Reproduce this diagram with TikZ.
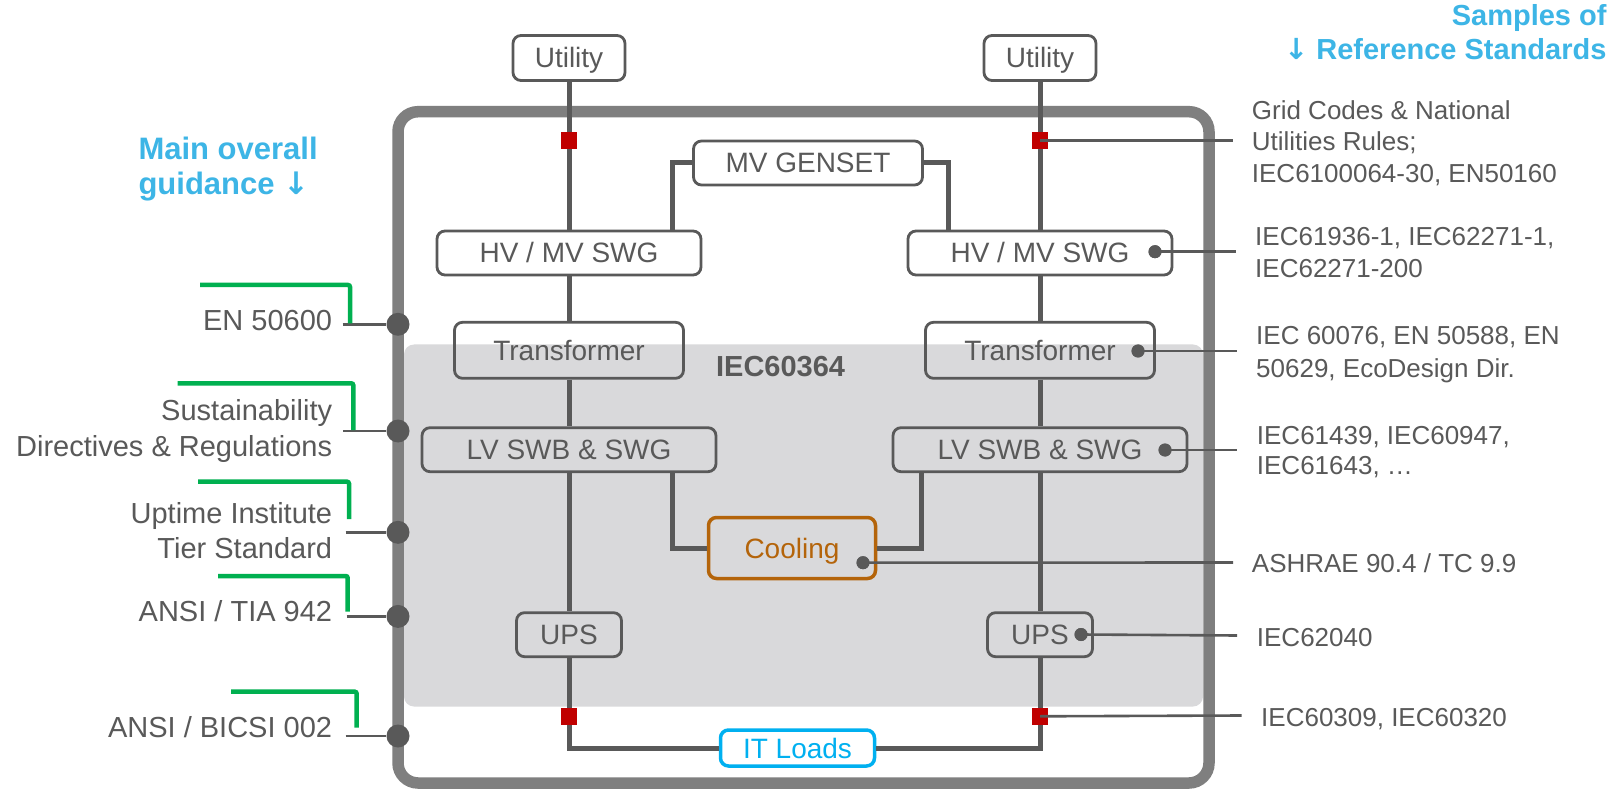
\documentclass[tikz,border=0pt]{standalone}
\usepackage{fontspec}
\setmainfont{Liberation Sans}
\newfontfamily\arrowfont{DejaVu Sans}
\definecolor{dg}{HTML}{595959}
\definecolor{fr}{HTML}{7F7F7F}
\definecolor{zonegrey}{HTML}{D9D9DB}
\definecolor{rsq}{HTML}{C00000}
\definecolor{grn}{HTML}{00B050}
\definecolor{cyanit}{HTML}{00B0F0}
\definecolor{head}{HTML}{3DB5E6}
\definecolor{cool}{HTML}{B4640A}
\newcommand\boxfnt{\fontsize{28}{34}\selectfont}
\newcommand\rlines[3]{{\fontsize{26}{#1}\selectfont\begin{tabular}[t]{@{}#2@{}}#3\end{tabular}}}
\newcommand\llines[2]{{\fontsize{29}{#1}\selectfont\begin{tabular}[t]{@{}r@{}}#2\end{tabular}}}
\newcommand\downarr{{\arrowfont\bfseries ↓}}
\begin{document}
\begin{tikzpicture}[x=1pt,y=-1pt,
  box/.style={draw=dg, line width=2.8pt, rounded corners=8pt, inner sep=0pt,
    font=\boxfnt, text=dg, text height=20pt, text depth=0pt},
  conn/.style={draw=dg, line width=5pt},
  thinc/.style={draw=dg, line width=2.6pt},
  sdot/.style={circle, fill=dg, inner sep=0pt, minimum size=13pt},
  bdot/.style={circle, fill=dg, inner sep=0pt, minimum size=23pt},
  redsq/.style={rectangle, fill=rsq, inner sep=0pt, minimum size=16.5pt},
  grnline/.style={draw=grn, line width=4.5pt, rounded corners=2pt},
  lbl/.style={inner sep=0pt, text=dg},
  headlbl/.style={inner sep=0pt, text=head}]
\useasboundingbox (0,0) rectangle (1622,791);
\fill[white] (0,0) rectangle (1622,791);

% shaded IEC60364 zone and outer frame
\fill[zonegrey, rounded corners=10pt] (404,344.5) rectangle (1203,706.5);
\draw[fr, line width=11.5pt, rounded corners=20pt] (398,111.7) rectangle (1209,783);
\node[inner sep=0pt, text=dg, font=\fontsize{29}{34}\selectfont\bfseries, anchor=base] (iec) at (780.6,377) {IEC60364};

% boxes
\node[box, minimum width=112pt, minimum height=45pt] (UL) at (569,58) {Utility};
\node[box, minimum width=112pt, minimum height=45pt] (UR) at (1040,58) {Utility};
\node[box, minimum width=229pt, minimum height=44pt] (MVG) at (808,163) {MV GENSET};
\node[box, minimum width=264pt, minimum height=44pt] (HVL) at (569,253) {HV / MV SWG};
\node[box, minimum width=264pt, minimum height=44pt] (HVR) at (1040,253) {HV / MV SWG};
\node[box, minimum width=229pt, minimum height=56pt] (TrL) at (569,350.3) {Transformer};
\node[box, minimum width=229pt, minimum height=56pt] (TrR) at (1040,350.3) {Transformer};
\node[box, minimum width=294pt, minimum height=44pt] (LVL) at (569,449.7) {LV SWB \& SWG};
\node[box, minimum width=294pt, minimum height=44pt] (LVR) at (1040,449.7) {LV SWB \& SWG};
\node[box, draw=cool, text=cool, line width=3.5pt, minimum width=167pt, minimum height=61pt] (Cool) at (792,548) {Cooling};
\node[box, minimum width=105pt, minimum height=44pt] (UPSL) at (569,634.7) {UPS};
\node[box, minimum width=105pt, minimum height=44pt] (UPSR) at (1040,634.7) {UPS};
\node[box, draw=cyanit, text=cyanit, line width=3.5pt, minimum width=154pt, minimum height=36pt] (IT) at (797.5,748) {IT Loads};

% power connectors
\draw[conn] (UL.south) -- (HVL.north);
\draw[conn] (UR.south) -- (HVR.north);
\draw[conn] (HVL.south) -- (TrL.north);
\draw[conn] (HVR.south) -- (TrR.north);
\draw[conn] (TrL.south) -- (LVL.north);
\draw[conn] (TrR.south) -- (LVR.north);
\draw[conn] (LVL.south) -- (UPSL.north);
\draw[conn] (LVR.south) -- (UPSR.north);
\draw[conn] (MVG.west) -| ([xshift=103pt]HVL.north);
\draw[conn] (MVG.east) -| ([xshift=-91.4pt]HVR.north);
\draw[conn] ([xshift=103pt]LVL.south) |- (Cool.west);
\draw[conn] ([xshift=-119pt]LVR.south) |- (Cool.east);
\draw[conn] (UPSL.south) |- (IT.west);
\draw[conn] (UPSR.south) |- (IT.east);

% breakers
\node[redsq] (rq1) at (569,140.5) {};
\node[redsq] (rq2) at (1040,140.5) {};
\node[redsq] (rq3) at (569,716.3) {};
\node[redsq] (rq4) at (1040,716.3) {};

% reference standards (right)
\node[sdot] (dHV) at (1155,251.7) {};
\node[sdot] (dTr) at (1138,351) {};
\node[sdot] (dLV) at (1165,450) {};
\node[sdot] (dCool) at (863,562.7) {};
\node[sdot] (dUPS) at (1081,634.5) {};
\coordinate (e1) at (1233,140.5);
\coordinate (e2) at (1236,251.7);
\coordinate (e3) at (1237,351);
\coordinate (e4) at (1237,450);
\coordinate (e5) at (1233,562.5);
\coordinate (e6) at (1237,635.5);
\coordinate (e7) at (1241.7,715.5);
\draw[thinc] (rq2.center) -- (e1);
\draw[thinc] (dHV.center) -- (e2);
\draw[thinc] (dTr.center) -- (e3);
\draw[thinc] (dLV.center) -- (e4);
\draw[thinc] (dCool.center) -- (e5);
\draw[thinc] (dUPS.center) -- (e6);
\draw[thinc] (rq4.center) -- (e7);
\node[sdot] at (dHV) {};
\node[sdot] at (dTr) {};
\node[sdot] at (dLV) {};
\node[sdot] at (dCool) {};
\node[sdot] at (dUPS) {};

\node[lbl, anchor=base west] (r1) at (1251.7,119.3) {\rlines{31.7}{l}{Grid Codes \& National\\Utilities Rules;\\IEC6100064-30, EN50160}};
\node[lbl, anchor=base west] (r2) at (1255,246) {\rlines{31.6}{l}{IEC61936-1, IEC62271-1,\\IEC62271-200}};
\node[lbl, anchor=base west] (r3) at (1256,344.3) {\rlines{33}{l}{IEC 60076, EN 50588, EN\\50629, EcoDesign Dir.}};
\node[lbl, anchor=base west] (r4) at (1256.7,444.3) {\rlines{30.5}{l}{IEC61439, IEC60947,\\IEC61643, …}};
\node[lbl, anchor=base west] (r5) at (1251.7,572) {\rlines{31}{l}{ASHRAE 90.4 / TC 9.9}};
\node[lbl, anchor=base west] (r6) at (1256.7,646) {\rlines{31}{l}{IEC62040}};
\node[lbl, anchor=base west] (r7) at (1261,726) {\rlines{31}{l}{IEC60309, IEC60320}};

% main guidance (left)
\node[bdot] (L1) at (398,324.3) {};
\node[bdot] (L2) at (398,431) {};
\node[bdot] (L3) at (398,532.3) {};
\node[bdot] (L4) at (398,616.4) {};
\node[bdot] (L5) at (398,736) {};
\coordinate (c1) at (342.7,324.3);
\coordinate (c2) at (343,431);
\coordinate (c3) at (345.7,532.3);
\coordinate (c4) at (346.7,616.4);
\coordinate (c5) at (345.7,736);
\draw[thinc] (c1) -- (L1);
\draw[thinc] (c2) -- (L2);
\draw[thinc] (c3) -- (L3);
\draw[thinc] (c4) -- (L4);
\draw[thinc] (c5) -- (L5);
\draw[grnline] (200,285) -| (350,323.3);
\draw[grnline] (177.7,383.3) -| (353.3,430);
\draw[grnline] (198,481.7) -| (349,519);
\draw[grnline] (218,576) -| (347.7,611.7);
\draw[grnline] (231,691.7) -| (356.7,727.7);
\node[lbl, anchor=base east] (l1) at (332.3,330.4) {\llines{35.5}{EN 50600}};
\node[lbl, anchor=base east] (l2) at (332.3,420.4) {\llines{35.7}{Sustainability\\Directives \& Regulations}};
\node[lbl, anchor=base east] (l3) at (332.3,523.4) {\llines{35}{Uptime Institute\\Tier Standard}};
\node[lbl, anchor=base east] (l4) at (332.3,621.1) {\llines{35.5}{ANSI / TIA 942}};
\node[lbl, anchor=base east] (l5) at (332.3,737.1) {\llines{35.5}{ANSI / BICSI 002}};

% headings
\node[headlbl, anchor=base west] (h1) at (138.3,160) {{\fontsize{31}{35}\selectfont\bfseries\begin{tabular}[t]{@{}l@{}}Main overall\\guidance \downarr\end{tabular}}};
\node[headlbl, anchor=base east] (h2) at (1606.7,26) {{\fontsize{29}{34}\selectfont\bfseries\begin{tabular}[t]{@{}r@{}}Samples of\\\downarr{} Reference Standards\end{tabular}}};
\end{tikzpicture}
\end{document}
